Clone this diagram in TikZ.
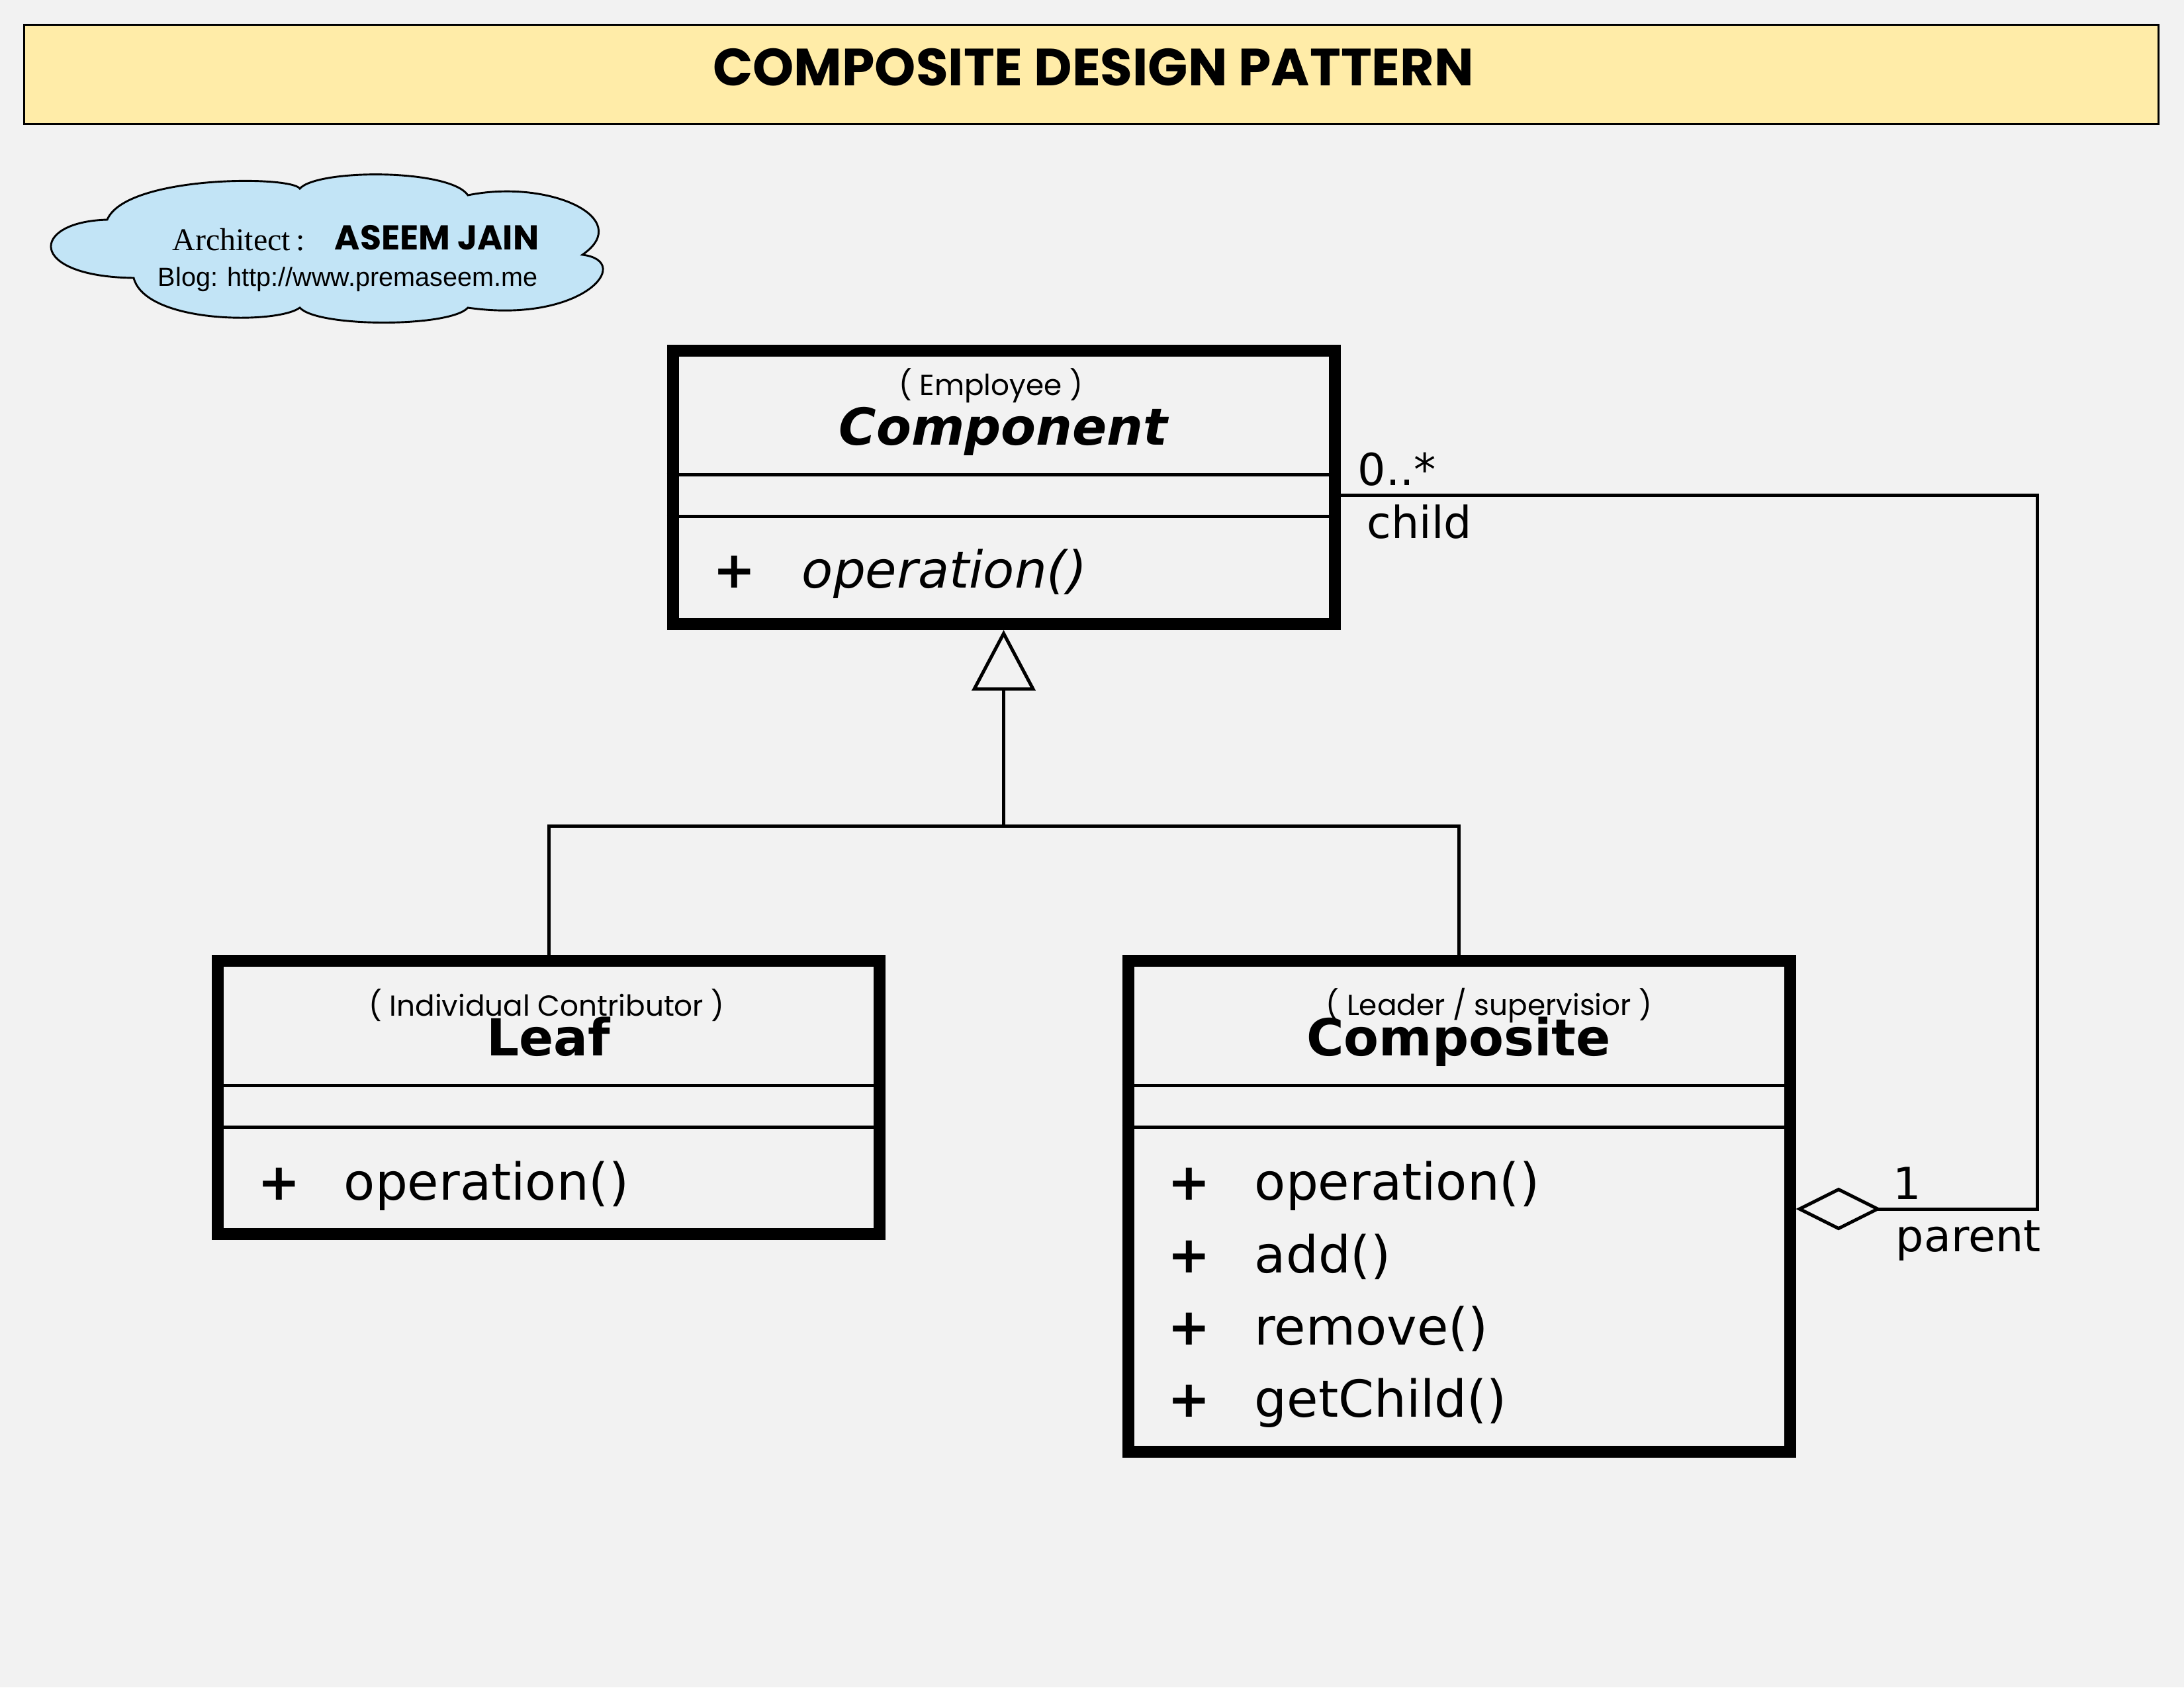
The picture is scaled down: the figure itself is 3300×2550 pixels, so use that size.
\documentclass[tikz,border=0pt]{standalone}
\usepackage{fontspec}
\usetikzlibrary{arrows.meta}
\newfontfamily\umlfont{DejaVu Sans}
\newfontfamily\stereofont{Poppins}
\newfontfamily\comicfont{Poppins}
\newfontfamily\seriffont{Liberation Serif}
\newfontfamily\arialfont{Liberation Sans}
\definecolor{bg}{RGB}{242,242,242}
\definecolor{titlefill}{RGB}{255,236,168}
\definecolor{cloudfill}{RGB}{194,228,246}
\tikzset{
  classbox/.style={draw=black, line width=4.32pt, fill=bg, rectangle, inner sep=0pt, outer sep=2.16pt, minimum width=240pt},
  sepline/.style={line width=1.2pt, black},
  conn/.style={line width=1.2pt, black},
  stereo/.style={font=\stereofont\fontsize{10.5}{12}\selectfont, anchor=base, inner sep=0pt},
  cname/.style={font=\umlfont\bfseries\fontsize{18.5}{22}\selectfont, anchor=base, inner sep=0pt},
  cnameit/.style={font=\umlfont\bfseries\itshape\fontsize{18.5}{22}\selectfont, anchor=base, inner sep=0pt},
  plus/.style={font=\umlfont\bfseries\fontsize{18.5}{22}\selectfont, anchor=base, inner sep=0pt},
  member/.style={font=\umlfont\fontsize{18.5}{22}\selectfont, anchor=base west, inner sep=0pt},
  memberit/.style={font=\umlfont\itshape\fontsize{18.5}{22}\selectfont, anchor=base west, inner sep=0pt},
  mult/.style={font=\umlfont\fontsize{16}{19}\selectfont, anchor=base west, inner sep=0pt},
}
\begin{document}
\begin{tikzpicture}[x=0.24pt,y=-0.24pt]
\useasboundingbox (0,0) rectangle (3300,2550);
\fill[bg] (0,0) rectangle (3300,2550);

% title
\node[draw=black, line width=0.72pt, fill=titlefill, minimum width=774pt, minimum height=36pt, inner sep=0pt] (titlebox) at (1649,112) {};
\node[font=\comicfont\bfseries\fontsize{19}{22}\selectfont, inner sep=0pt] (titletext) at (1652,102) {COMPOSITE DESIGN PATTERN};

% cloud
\draw[line width=0.7pt, fill=cloudfill]
  (202,420) .. controls (40,418) and (45,335) .. (162,332)
  .. controls (190,265) and (440,265) .. (453,285)
  .. controls (480,255) and (680,255) .. (707,295)
  .. controls (830,270) and (960,330) .. (880,385)
  .. controls (960,395) and (880,490) .. (707,465)
  .. controls (680,495) and (480,495) .. (453,465)
  .. controls (420,490) and (220,490) .. (202,420) -- cycle;
\node[font=\seriffont\fontsize{11.5}{13}\selectfont, anchor=base west, inner sep=0pt] (arch) at (260,378) {Architect\,:};
\node[font=\comicfont\bfseries\fontsize{12.5}{14}\selectfont, anchor=base west, inner sep=0pt] (aname) at (505,377) {ASEEM JAIN};
\node[font=\arialfont\fontsize{9.5}{11}\selectfont, anchor=base west, inner sep=0pt] (blog) at (238,432) {Blog: http://www.premaseem.me};

% classes
\node[classbox, minimum height=99.12pt] (comp) at (1516.5,736.5) {};
\node[classbox, minimum height=99.12pt] (leaf) at (829,1658.5) {};
\node[classbox, minimum height=178.08pt] (compo) at (2204.5,1823) {};

\foreach \b/\s in {comp/47.04pt, comp/62.16pt, leaf/47.28pt, leaf/62.4pt, compo/47.28pt, compo/62.4pt}{
  \draw[sepline] ([yshift=-\s]\b.north west) -- ([yshift=-\s]\b.north east);
}

% Component texts
\node[stereo] (compst) at (1497,597) {( Employee )};
\node[cnameit] (compname) at (1516,672) {Component};
\node[plus] (compplus) at (1110,888) {+};
\node[memberit] (compop) at (1211,888) {operation()};

% Leaf texts
\node[stereo] (leafst) at (826,1535) {( Individual Contributor )};
\node[cname] (leafname) at (829,1595) {Leaf};
\node[plus] (leafplus) at (422,1813) {+};
\node[member] (leafop) at (519,1813) {operation()};

% Composite texts
\node[stereo] (compost) at (2250,1534) {( Leader / supervisior )};
\node[cname] (componame) at (2204,1595) {Composite};
\node[plus] (coplus1) at (1797,1813) {+};
\node[member] (coop1) at (1895,1813) {operation()};
\node[plus] (coplus2) at (1797,1923) {+};
\node[member] (coop2) at (1895,1923) {add()};
\node[plus] (coplus3) at (1797,2032) {+};
\node[member] (coop3) at (1895,2032) {remove()};
\node[plus] (coplus4) at (1797,2141) {+};
\node[member] (coop4) at (1895,2141) {getChild()};

% generalization
\coordinate (gj) at (1516.5,1248);
\draw[conn] (leaf.north) |- (gj) -| (compo.north);
\draw[conn, -{Triangle[open, length=22pt, width=23pt]}] (gj) -- (comp.south);

% aggregation
\coordinate (aggR) at (3078,1827);
\coordinate (aggT) at (3078,748);
\draw[conn, {Diamond[open, length=31pt, width=15.5pt]}-] (compo.east |- aggR) -- (aggR) -- (aggT) -- (comp.east |- aggT);

% multiplicities
\node[mult] (m1) at (2051,733) {0..*};
\node[mult] (r1) at (2065,813) {child};
\node[mult] (m2) at (2860,1812) {1};
\node[mult] (r2) at (2864,1891) {parent};
\end{tikzpicture}
\end{document}
